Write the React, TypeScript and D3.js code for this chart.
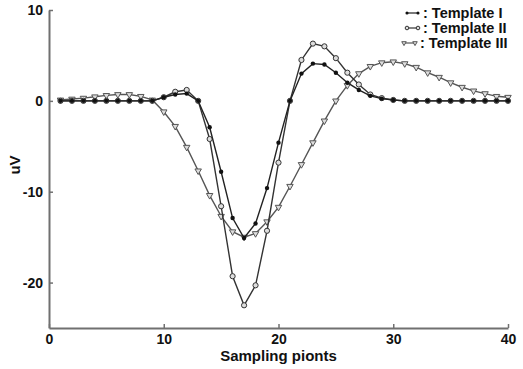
import React, { useEffect, useRef } from "react";
import * as d3 from "d3";

const samples = d3.range(1, 41);
const templateI = [
  0, 0, 0, 0, 0, 0, 0, 0, 0, 0.4, 0.7, 0.8, 0, -2.9, -7.8, -12.9, -15.1, -13.5, -9.6, -4.6,
  0, 3.0, 4.1, 4.0, 3.1, 2.0, 1.2, 0.55, 0.25, 0.1, 0, 0, 0, 0, 0, 0, 0, 0, 0, 0,
];
const templateII = [
  0, 0, 0, 0, 0, 0, 0, 0, 0, 0.4, 1.0, 1.2, 0, -4.2, -11.6, -19.3, -22.5, -20.3, -14.3, -6.8,
  0, 4.5, 6.3, 6.0, 4.7, 3.1, 1.8, 0.7, 0.3, 0.1, 0, 0, 0, 0, 0, 0, 0, 0, 0, 0,
];
const templateIII = [
  0.1, 0.2, 0.3, 0.45, 0.6, 0.7, 0.7, 0.5, 0.1, -1.2, -2.8, -5.1, -7.7, -10.4, -12.7, -14.4, -15.0, -14.6, -13.3, -11.7,
  -9.4, -7.0, -4.6, -2.2, 0.0, 1.7, 3.0, 3.8, 4.2, 4.3, 4.1, 3.7, 3.1, 2.6, 2.0, 1.5, 1.1, 0.8, 0.5, 0.4,
];
const xTicks = [0, 10, 20, 30, 40];
const yTicks = [10, 0, -10, -20];
const legendLabels = [": Template I", ": Template II", ": Template III"];

const FONT = "'Liberation Sans', Arial, sans-serif";

const App = () => {
  const svgRef = useRef<SVGSVGElement>(null);

  useEffect(() => {
    const svg = d3.select(svgRef.current);
    svg.selectAll("*").remove();

    const margin = { top: 10, right: 15, bottom: 41, left: 49 };
    const width = 523 - margin.left - margin.right;
    const height = 369 - margin.top - margin.bottom;

    const x = d3.scaleLinear().domain([0, 40]).range([0, width]);
    const y = d3.scaleLinear().domain([-25, 10]).range([height, 0]);

    const g = svg.append("g").attr("transform", `translate(${margin.left},${margin.top})`);

    // axes (left + bottom only, ticks pointing inward), plain hyphen minus like the original
    const fmt = (d: any) => String(d);
    const xAxis = g
      .append("g")
      .attr("transform", `translate(0,${height})`)
      .call(d3.axisBottom(x).tickValues(xTicks).tickFormat(fmt).tickSizeInner(-4).tickSizeOuter(0).tickPadding(6));
    const yAxis = g
      .append("g")
      .call(d3.axisLeft(y).tickValues(yTicks).tickFormat(fmt).tickSizeInner(-4).tickSizeOuter(0).tickPadding(6));
    [xAxis, yAxis].forEach((a) => {
      a.select(".domain").attr("stroke", "#707070").attr("stroke-width", 2);
      a.selectAll(".tick line").attr("stroke", "#707070").attr("stroke-width", 1.5);
      a.selectAll(".tick text")
        .attr("fill", "#111")
        .style("font-family", FONT)
        .style("font-weight", "bold")
        .style("font-size", "14px");
    });

    const line = d3
      .line<number>()
      .x((_, i) => x(samples[i]))
      .y((d) => y(d));

    const series = [
      { values: templateIII, color: "#555", marker: "tri" },
      { values: templateII, color: "#333", marker: "circle" },
      { values: templateI, color: "#222", marker: "dot" },
    ];

    const drawMarker = (sel: any, kind: string, color: string, cx: number, cy: number, k = 1) => {
      if (kind === "dot") {
        sel.append("circle").attr("cx", cx).attr("cy", cy).attr("r", 2.2 * k).attr("fill", "#111");
      } else if (kind === "circle") {
        sel
          .append("circle")
          .attr("cx", cx)
          .attr("cy", cy)
          .attr("r", 2.6 * k)
          .attr("fill", "#ddd")
          .attr("stroke", color)
          .attr("stroke-width", 1);
      } else {
        sel
          .append("path")
          .attr("d", d3.symbol().type(d3.symbolTriangle).size(18 * k * k)())
          .attr("transform", `translate(${cx},${cy}) rotate(180)`)
          .attr("fill", "#ddd")
          .attr("stroke", color)
          .attr("stroke-width", 1);
      }
    };

    series.forEach((s) => {
      g.append("path")
        .datum(s.values)
        .attr("d", line)
        .attr("fill", "none")
        .attr("stroke", s.color)
        .attr("stroke-width", 1.4);
      const mg = g.append("g");
      s.values.forEach((v, i) => drawMarker(mg, s.marker, s.color, x(samples[i]), y(v)));
    });

    // legend
    const legend = svg.append("g");
    const kinds = ["dot", "circle", "tri"];
    const colors = ["#222", "#333", "#555"];
    legendLabels.forEach((lab, i) => {
      const ly = 13 + i * 15;
      const lx = i === 2 ? 404 : 407;
      legend
        .append("line")
        .attr("x1", lx)
        .attr("x2", lx + 11)
        .attr("y1", ly)
        .attr("y2", ly)
        .attr("stroke", colors[i])
        .attr("stroke-width", 1.2);
      drawMarker(legend, kinds[i], colors[i], lx, ly, 0.7);
      drawMarker(legend, kinds[i], colors[i], lx + 11, ly, 0.7);
      legend
        .append("text")
        .attr("x", lx + 16)
        .attr("y", ly + 5)
        .attr("fill", "#111")
        .style("font-family", FONT)
        .style("font-weight", "bold")
        .style("font-size", "14.5px")
        .text(lab);
    });

    // axis labels
    svg
      .append("text")
      .attr("x", margin.left + x(20))
      .attr("y", 361)
      .attr("text-anchor", "middle")
      .attr("fill", "#111")
      .style("font-family", FONT)
      .style("font-weight", "bold")
      .style("font-size", "15px")
      .text("Sampling pionts");
    svg
      .append("text")
      .attr("transform", `translate(20,${165}) rotate(-90)`)
      .attr("text-anchor", "middle")
      .attr("fill", "#111")
      .style("font-family", FONT)
      .style("font-weight", "bold")
      .style("font-size", "15px")
      .text("uV");
  }, []);

  return (
    <svg
      ref={svgRef}
      width={523}
      height={369}
      style={{ position: "absolute", left: 0, top: 0, background: "#fff" }}
    ></svg>
  );
};

export default App;
